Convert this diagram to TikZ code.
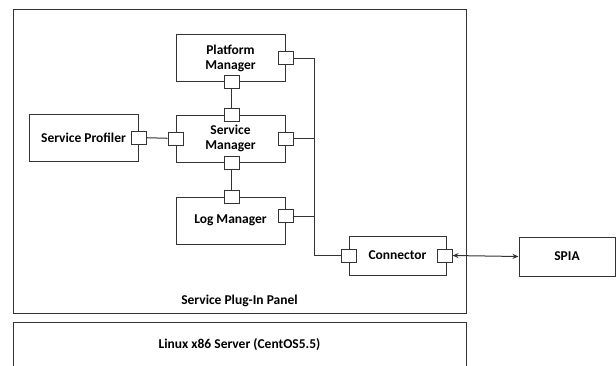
\documentclass[tikz,border=0pt]{standalone}
\usepackage{fontspec}
\setmainfont{Carlito}
\usetikzlibrary{arrows.meta}

\tikzset{
  comp/.style={draw=black!80, fill=white, minimum width=109pt, minimum height=47pt,
    inner sep=1pt, align=center, font=\bfseries\fontsize{13.5}{15}\selectfont},
  port/.style={draw=black!80, fill=white, minimum width=15pt, minimum height=13pt, inner sep=0pt},
  wire/.style={draw=black!80, line width=1pt},
}

\begin{document}
\begin{tikzpicture}[x=1pt,y=-1pt,line width=1pt]
  \useasboundingbox (0,0) rectangle (616,365);

  % panel and server
  \draw[black!80] (13,9) rectangle (466,313);
  \node[font=\bfseries\fontsize{13.5}{15}\selectfont] (panel) at (239.5,301) {Service Plug-In Panel};
  \draw[black!80] (13,366) -- (13,322.5) -- (466,322.5) -- (466,366);
  \node[font=\bfseries\fontsize{13.5}{15}\selectfont] (server) at (239.5,345) {Linux x86 Server (CentOS5.5)};

  % components
  \node[comp] (pm) at (230.5,58) {Platform\\Manager};
  \node[comp] (sm) at (230.5,138.5) {Service\\Manager};
  \node[comp] (lm) at (230.5,220.5) {Log Manager};
  \node[comp] (sp) at (83.5,137.5) {Service Profiler};
  \node[comp, minimum width=97pt, minimum height=39pt] (conn) at (397.5,255.5) {Connector};
  \node[comp, minimum width=96pt, minimum height=39pt] (spia) at (567,256.5) {SPIA};

  % ports
  \node[port] (pm-e) at (pm.east) {};
  \node[port] (pm-s) at ([xshift=1pt]pm.south) {};
  \node[port] (sm-n) at ([xshift=1pt]sm.north) {};
  \node[port] (sm-s) at ([xshift=1pt]sm.south) {};
  \node[port] (sm-w) at (sm.west) {};
  \node[port] (sm-e) at (sm.east) {};
  \node[port] (sp-e) at (sp.east) {};
  \node[port] (lm-n) at ([xshift=1pt]lm.north) {};
  \node[port] (lm-e) at ([yshift=4.5pt]lm.east) {};
  \node[port] (conn-w) at (conn.west) {};
  \node[port] (conn-e) at ([xshift=-2pt]conn.east) {};

  % wires
  \coordinate (bus) at (314,0);
  \draw[wire] (pm-s) -- (sm-n);
  \draw[wire] (sm-s) -- (lm-n);
  \draw[wire] (sp-e) -- (sm-w);
  \draw[wire] (pm-e.east) -| (bus |- conn-w) -- (conn-w.west);
  \draw[wire] (sm-e.east) -- (sm-e.east -| bus);
  \draw[wire] (lm-e.east) -- (lm-e.east -| bus);
  \draw[wire, {Stealth[length=6pt,width=5pt]}-{Stealth[length=6pt,width=5pt]}] (conn-e.east) -- (spia.west);
\end{tikzpicture}
\end{document}
